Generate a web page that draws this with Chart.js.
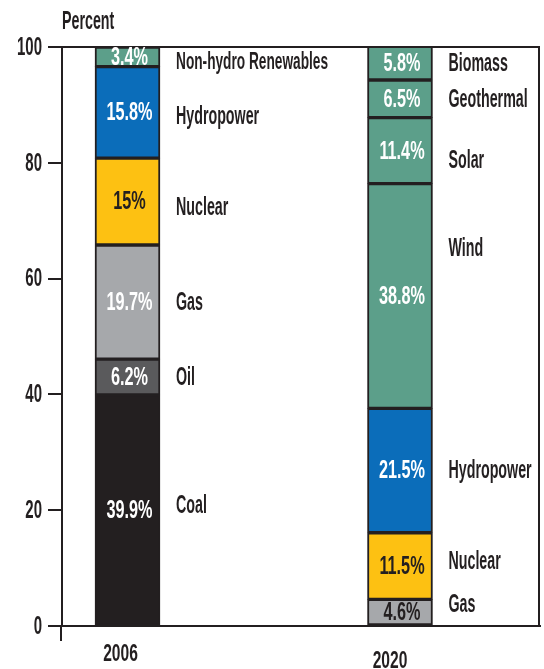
<!DOCTYPE html>
<html>
<head>
<meta charset="utf-8">
<title>Electricity mix 2006 vs 2020</title>
<script src="https://cdn.jsdelivr.net/npm/chart.js@4.4.0/dist/chart.umd.min.js"></script>
<style>
    html, body { margin: 0; padding: 0; background: #ffffff; }
    #mixChart { display: block; }
</style>
</head>
<body>
<canvas id="mixChart" width="544" height="669"></canvas>
<script>
// 数据
const years = [2006, 2020];
const names2006 = ['Coal', 'Oil', 'Gas', 'Nuclear', 'Hydropower', 'Non-hydro Renewables'];
const values2006 = [39.9, 6.2, 19.7, 15, 15.8, 3.4];
const names2020 = ['Gas', 'Nuclear', 'Hydropower', 'Wind', 'Solar', 'Geothermal', 'Biomass'];
const values2020 = [4.6, 11.5, 21.5, 38.8, 11.4, 6.5, 5.8];
const yTicks = [0, 20, 40, 60, 80, 100];

(() => {
    // 样式
    const INK = '#231f20';
    const SQ_WORD = 0.57;   // 字母横向压缩
    const SQ_NUM = 0.65;    // 数字横向压缩
    const FONT = '"Liberation Sans", Arial, sans-serif';
    const fills = {
        Coal: '#231f20',
        Oil: '#5a5a5c',
        Gas: '#a6a8ab',
        Nuclear: '#fdc112',
        Hydropower: '#0b6dba',
        'Non-hydro Renewables': '#5c9f8a',
        Wind: '#5c9f8a',
        Solar: '#5c9f8a',
        Geothermal: '#5c9f8a',
        Biomass: '#5c9f8a'
    };
    // 数值文字颜色（默认白色）
    const darkValues = { '2006-Nuclear': true, '2020-Nuclear': true, '2020-Gas': true };
    // 名称标签微调（像素）
    const nameNudge = { '2020-Wind': -48, '2020-Solar': 9, '2020-Gas': -8, '2020-Nuclear': -5, '2006-Nuclear': 6, '2006-Coal': -5, '2006-Non-hydro Renewables': 5, '2006-Hydropower': 4 };

    // 坐标范围：让两根柱子落在原图的位置
    const X_MIN = 2002.635;
    const X_MAX = 2027.193;

    function makeDatasets(year, names, values) {
        return names.map((name, i) => ({
            label: name,
            year: year,
            data: [{ x: year, y: values[i] }],
            backgroundColor: fills[name],
            borderColor: INK,
            borderWidth: 2,
            borderSkipped: false,
            barThickness: 65
        }));
    }

    function squeezedText(ctx, text, x, y, align, size, color, sq) {
        ctx.save();
        ctx.font = `bold ${size}px ${FONT}`;
        ctx.fillStyle = color;
        ctx.textBaseline = 'middle';
        ctx.textAlign = 'left';
        const w = ctx.measureText(text).width * sq;
        const left = align === 'left' ? x : align === 'right' ? x - w : x - w / 2;
        ctx.translate(left, y);
        ctx.scale(sq, 1);
        ctx.fillText(text, 0, 0);
        ctx.restore();
    }

    // 文字与边框插件
    const labelPlugin = {
        id: 'mixLabels',
        afterDraw(chart) {
            const ctx = chart.ctx;
            const area = chart.chartArea;
            const xs = chart.scales.x;
            const ys = chart.scales.y;

            // 外框 + 左轴向下延伸
            ctx.save();
            ctx.strokeStyle = INK;
            ctx.lineWidth = 2;
            ctx.beginPath();
            ctx.moveTo(area.left, area.top);
            ctx.lineTo(area.right - 1, area.top);
            ctx.lineTo(area.right - 1, area.bottom);
            ctx.stroke();
            ctx.beginPath();
            ctx.moveTo(area.left - 1, area.bottom);
            ctx.lineTo(area.left - 1, area.bottom + 15);
            ctx.stroke();
            ctx.restore();

            // 轴标签
            ys.ticks.forEach(t => {
                squeezedText(ctx, String(t.value), 42, ys.getPixelForValue(t.value) + 1, 'right', 25, INK, 0.6);
            });
            xs.ticks.forEach((t, i) => {
                squeezedText(ctx, String(t.value), xs.getPixelForValue(t.value) - 7 - 3 * i, 654 + 7 * i, 'center', 24, INK, SQ_NUM);
            });
            squeezedText(ctx, 'Percent', 62, 22, 'left', 25, INK, SQ_WORD);

            // 数值与名称
            chart.data.datasets.forEach((ds, i) => {
                const bar = chart.getDatasetMeta(i).data[0];
                if (!bar) return;
                const key = ds.year + '-' + ds.label;
                const mid = (bar.y + bar.base) / 2;
                const value = ds.data[0].y + '%';
                squeezedText(ctx, value, bar.x + 2, mid + 1, 'center', 25, darkValues[key] ? INK : '#ffffff', SQ_NUM);
                const nameSize = ds.label.length > 12 ? 24 : 25;
                squeezedText(ctx, ds.label, bar.x + bar.width / 2 + 16, mid + 1 + (nameNudge[key] || 0), 'left', nameSize, INK, SQ_WORD);
            });
        }
    };

    new Chart(document.getElementById('mixChart'), {
        type: 'bar',
        data: {
            datasets: [
                ...makeDatasets(years[0], names2006, values2006),
                ...makeDatasets(years[1], names2020, values2020)
            ]
        },
        options: {
            responsive: false,
            devicePixelRatio: 1,
            animation: false,
            layout: { padding: { top: 47, right: 4, left: 0, bottom: 0 } },
            plugins: {
                legend: { display: false },
                tooltip: { enabled: false }
            },
            scales: {
                x: {
                    type: 'linear',
                    min: X_MIN,
                    max: X_MAX,
                    offset: false,
                    stacked: true,
                    grid: { display: false },
                    border: { display: true, color: INK, width: 2 },
                    ticks: { color: 'rgba(0,0,0,0)' },
                    afterBuildTicks: scale => { scale.ticks = years.map(v => ({ value: v })); },
                    afterFit: scale => { scale.height = 43; }
                },
                y: {
                    min: 0,
                    max: 100,
                    stacked: true,
                    grid: { drawOnChartArea: false, drawTicks: true, tickLength: 14, color: INK, lineWidth: 2 },
                    border: { display: true, color: INK, width: 2 },
                    ticks: { color: 'rgba(0,0,0,0)' },
                    afterBuildTicks: scale => { scale.ticks = yTicks.map(v => ({ value: v })); },
                    afterFit: scale => { scale.width = 62; }
                }
            }
        },
        plugins: [labelPlugin]
    });
})();
</script>
</body>
</html>
